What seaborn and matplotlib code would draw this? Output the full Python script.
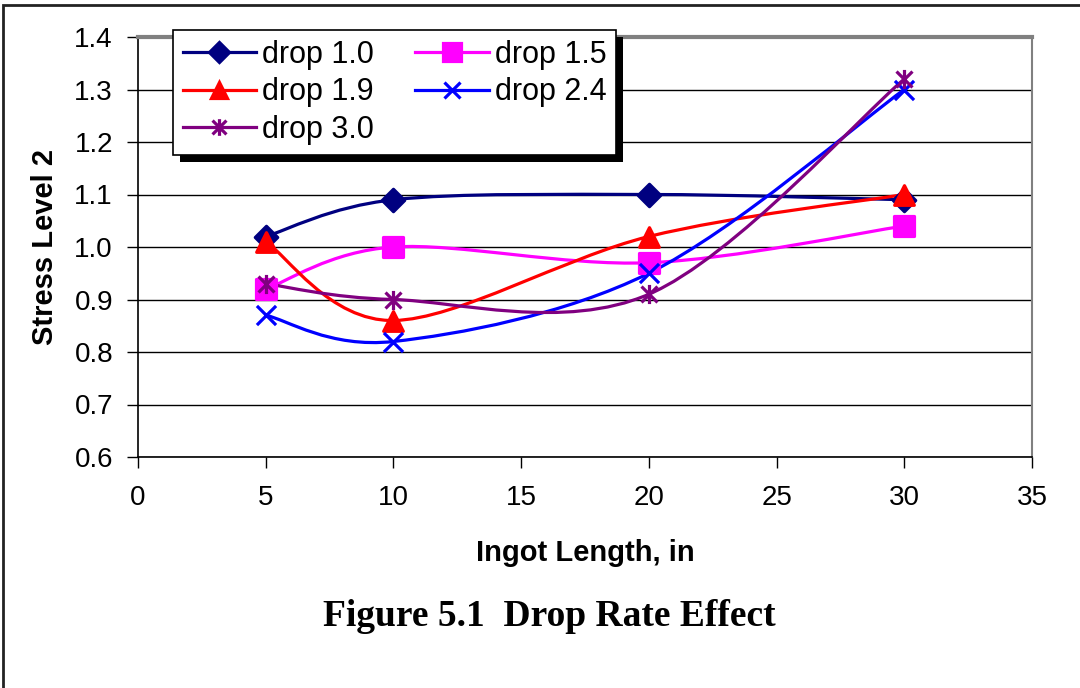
import numpy as np
import pandas as pd
import matplotlib
matplotlib.use("Agg")
import matplotlib.pyplot as plt
import seaborn as sns
from matplotlib.path import Path
from matplotlib.patches import PathPatch, Rectangle
from matplotlib.lines import Line2D
from matplotlib.transforms import IdentityTransform

# data
lengths = [5, 10, 20, 30]
drop_10 = [1.02, 1.09, 1.10, 1.09]
drop_15 = [0.92, 1.00, 0.97, 1.04]
drop_19 = [1.01, 0.86, 1.02, 1.10]
drop_24 = [0.87, 0.82, 0.95, 1.30]
drop_30 = [0.93, 0.90, 0.91, 1.32]

series_names = ["drop 1.0", "drop 1.5", "drop 1.9", "drop 2.4", "drop 3.0"]
series_vals = [drop_10, drop_15, drop_19, drop_24, drop_30]
colors = ["#000080", "#FF00FF", "#FF0000", "#0000FF", "#800080"]

# Excel style star: x with a vertical bar
star = Path([(-1, -1), (1, 1), (-1, 1), (1, -1), (0, -1.2), (0, 1.2)],
            [Path.MOVETO, Path.LINETO, Path.MOVETO, Path.LINETO, Path.MOVETO, Path.LINETO])
markers = ["D", "s", "^", "x", star]
sizes = [130, 200, 200, 190, 190]
leg_sizes = [10, 13, 12, 12, 12]

df = pd.concat([pd.DataFrame({"length": lengths, "stress": v, "series": n})
                for n, v in zip(series_names, series_vals)])

plt.rcParams["font.family"] = ["Liberation Sans", "DejaVu Sans"]


def smooth_path(xs, ys):
    # Excel-like smoothed line: cubic bezier through the points
    pts = np.column_stack([xs, ys]).astype(float)
    n = len(pts)
    verts = [pts[0]]
    codes = [Path.MOVETO]
    for i in range(n - 1):
        p0 = pts[i - 1] if i > 0 else pts[i]
        p1, p2 = pts[i], pts[i + 1]
        p3 = pts[i + 2] if i + 2 < n else p2
        verts += [p1 + (p2 - p0) / 6, p2 - (p3 - p1) / 6, p2]
        codes += [Path.CURVE4] * 3
    return Path(verts, codes)


fig = plt.figure(figsize=(10.8, 6.88), dpi=100)
ax = fig.add_axes([138 / 1080, 1 - 457 / 688, (1032 - 138) / 1080, (457 - 37) / 688])

for name, col, mk, sz in zip(series_names, colors, markers, sizes):
    sub = df[df["series"] == name]
    ax.add_patch(PathPatch(smooth_path(sub["length"], sub["stress"]), facecolor="none",
                           edgecolor=col, lw=2.3, zorder=2))
    sns.scatterplot(data=sub, x="length", y="stress", marker=mk, color=col, s=sz,
                    edgecolor=col, linewidth=2.3, ax=ax, zorder=3, legend=False)

ax.set_xlim(0, 35)
ax.set_ylim(0.6, 1.4)
ax.set_xticks(range(0, 36, 5))
ax.set_yticks(np.round(np.arange(0.6, 1.41, 0.1), 1))
ax.set_yticklabels([f"{v:.1f}" for v in np.arange(0.6, 1.41, 0.1)])
ax.grid(axis="y", color="black", lw=1)
ax.set_axisbelow(True)
ax.tick_params(axis="x", direction="out", length=8, width=1, pad=12, labelsize=20)
ax.tick_params(axis="y", direction="out", length=8, width=1, pad=10, labelsize=20)
for s in ["left", "bottom"]:
    ax.spines[s].set_color("black")
    ax.spines[s].set_linewidth(1.2)
ax.spines["top"].set_color("#808080")
ax.spines["top"].set_linewidth(3)
ax.spines["right"].set_color("#808080")
ax.spines["right"].set_linewidth(1.5)

ax.set_xlabel("Ingot Length, in", fontsize=21, fontweight="bold", labelpad=20)
ax.set_ylabel("Stress Level 2", fontsize=21, fontweight="bold", labelpad=11)

# legend, row-major order like Excel
handles = [Line2D([], [], color=c, lw=2.3, marker=m, markersize=ms, markeredgewidth=2.3,
                  markeredgecolor=c, markerfacecolor=c)
           for c, m, ms in zip(colors, markers, leg_sizes)]
order = [0, 2, 4, 1, 3]
leg = ax.legend([handles[i] for i in order], [series_names[i] for i in order],
                ncol=2, loc="upper left", bbox_to_anchor=(173 / 1080, 1 - 30 / 688),
                bbox_transform=fig.transFigure, borderaxespad=0, fontsize=22, frameon=True,
                fancybox=False, edgecolor="black", framealpha=1, handlelength=2.4,
                handletextpad=0.2, columnspacing=1.35, labelspacing=0.25, borderpad=0.32)
leg.get_frame().set_linewidth(1.2)
leg.set_zorder(6)

# black drop shadow behind the legend box
fig.canvas.draw()
bb = leg.get_frame().get_window_extent()
ax.add_patch(Rectangle((bb.x0 + 7, bb.y0 - 7), bb.width, bb.height,
                       transform=IdentityTransform(), facecolor="black", edgecolor="none",
                       clip_on=False, zorder=5))

fig.text(549 / 1080, 1 - 617 / 688, "Figure 5.1  Drop Rate Effect", ha="center", va="center",
         fontsize=27, fontweight="bold", family=["Liberation Serif", "DejaVu Serif"])

# outer border of the figure (only left and top edges visible)
fig.patches.append(Rectangle((3 / 1080, -0.1), 1.5, 1 - 5 / 688 + 0.1, transform=fig.transFigure,
                             fill=False, edgecolor="#222222", lw=2))

fig.savefig("out.png", dpi=100)
